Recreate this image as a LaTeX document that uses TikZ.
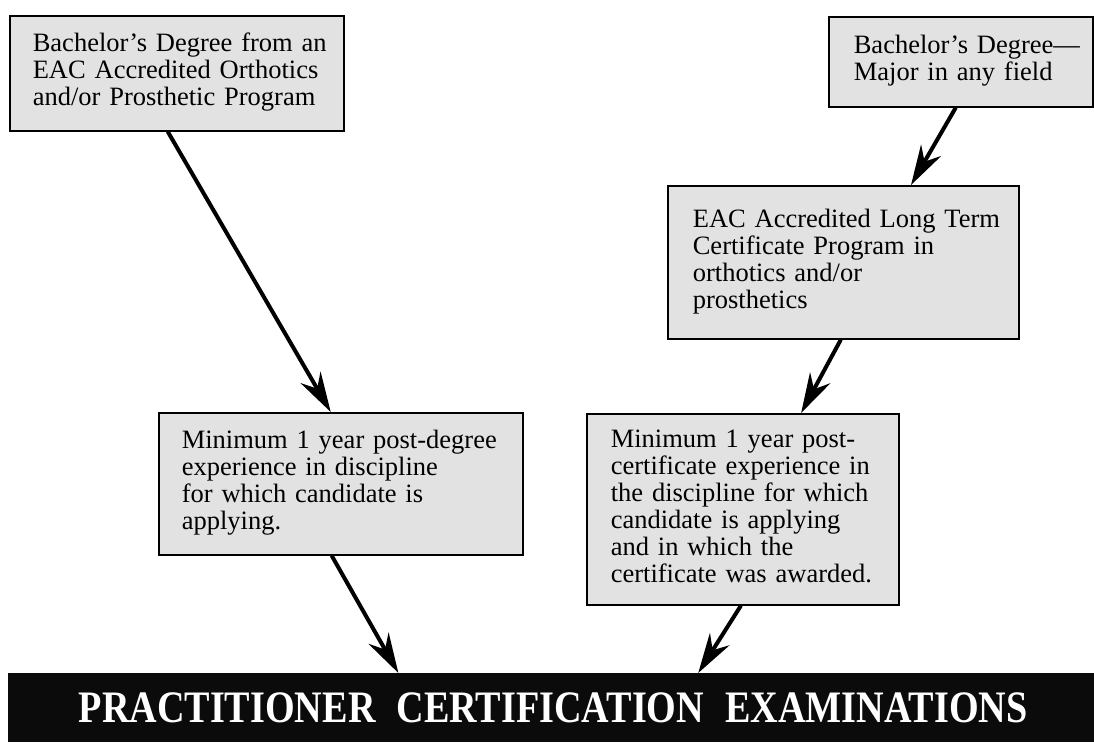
\documentclass[tikz,border=0pt]{standalone}
\usepackage{fontspec}
\setmainfont{Liberation Serif}
\usepackage{graphicx}
\usetikzlibrary{arrows.meta,calc}
\definecolor{boxgray}{HTML}{E2E2E2}
\definecolor{bandblack}{HTML}{0B0B0B}
\newcommand{\boxlines}[1]{\begin{tabular}{@{}l@{}}#1\end{tabular}}
\begin{document}
\begin{tikzpicture}[x=1pt,y=-1pt,
  box/.style={draw=black,line width=1.6pt,fill=boxgray,anchor=north west,
    inner ysep=0pt,align=left,font=\fontsize{26.5}{27}\selectfont},
  conn/.style={line width=4pt,-{Stealth[length=40pt,width=23pt,inset=13pt]}},
  band/.style={fill=bandblack,anchor=north west,inner sep=0pt,text=white,
    minimum width=1090pt,minimum height=69pt},
]
\useasboundingbox (0,0) rectangle (1094,742);

\node[box,inner xsep=23pt,text width=288pt,minimum height=115pt] (A) at (9,15)
  {\boxlines{Bachelor’s Degree from an\\EAC Accredited Orthotics\\and/or Prosthetic Program}};
\node[box,inner xsep=25pt,text width=214pt,minimum height=90pt] (B) at (828,16)
  {\boxlines{Bachelor’s Degree—\\Major in any field}};
\node[box,inner xsep=25pt,text width=301pt,minimum height=153pt] (C) at (667,185)
  {\boxlines{EAC Accredited Long Term\\Certificate Program in\\orthotics and/or\\prosthetics}};
\node[box,inner xsep=23pt,text width=318pt,minimum height=142pt] (D) at (158,412)
  {\boxlines{Minimum 1 year post-degree\\experience in discipline\\for which candidate is\\applying.}};
\node[box,inner xsep=24pt,text width=264pt,minimum height=191pt] (E) at (586,413)
  {\boxlines{Minimum 1 year post-\\certificate experience in\\the discipline for which\\candidate is applying\\and in which the\\certificate was awarded.}};
\node[band] (X) at (8,673)
  {\resizebox{949pt}{\height}{\fontsize{45}{45}\selectfont\bfseries PRACTITIONER\hspace{0.55em}CERTIFICATION\hspace{0.55em}EXAMINATIONS}};

\draw[conn] ($(A.south west)!0.473!(A.south east)$) -- ($(D.north west)!0.4725!(D.north east)$);
\draw[conn] ($(B.south west)!0.481!(B.south east)$) -- ($(C.north west)!0.692!(C.north east)$);
\draw[conn] ($(C.south west)!0.493!(C.south east)$) -- ($(E.north west)!0.686!(E.north east)$);
\draw[conn] ($(D.south west)!0.475!(D.south east)$) -- ($(X.north west)!0.358!(X.north east)$);
\draw[conn] ($(E.south west)!0.494!(E.south east)$) -- ($(X.north west)!0.633!(X.north east)$);
\end{tikzpicture}
\end{document}
